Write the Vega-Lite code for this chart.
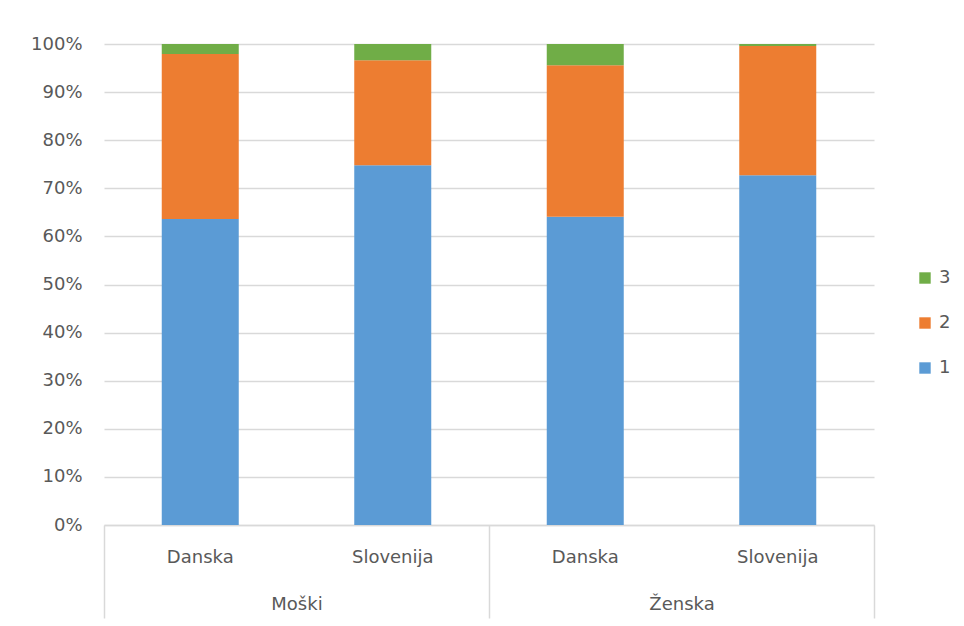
{
  "$schema": "https://vega.github.io/schema/vega-lite/v6.json",
  "width": 770,
  "height": 481,
  "autosize": {"type": "none"},
  "padding": {"left": 104, "top": 44, "right": 90, "bottom": 101},
  "background": "white",
  "config": {
    "font": "DejaVu Sans",
    "view": {"stroke": null},
    "axis": {"labelColor": "#595959", "labelFontSize": 18, "labelFont": "DejaVu Sans"},
    "legend": {"labelColor": "#595959", "labelFontSize": 18, "labelFont": "DejaVu Sans"}
  },
  "data": {
    "values": [
      {"key": "Moški|Danska", "spol": "Moški", "drzava": "Danska", "cat": "1", "value": 63.6},
      {"key": "Moški|Danska", "spol": "Moški", "drzava": "Danska", "cat": "2", "value": 34.3},
      {"key": "Moški|Danska", "spol": "Moški", "drzava": "Danska", "cat": "3", "value": 2.1},
      {"key": "Moški|Slovenija", "spol": "Moški", "drzava": "Slovenija", "cat": "1", "value": 74.8},
      {"key": "Moški|Slovenija", "spol": "Moški", "drzava": "Slovenija", "cat": "2", "value": 21.8},
      {"key": "Moški|Slovenija", "spol": "Moški", "drzava": "Slovenija", "cat": "3", "value": 3.4},
      {"key": "Ženska|Danska", "spol": "Ženska", "drzava": "Danska", "cat": "1", "value": 64.1},
      {"key": "Ženska|Danska", "spol": "Ženska", "drzava": "Danska", "cat": "2", "value": 31.5},
      {"key": "Ženska|Danska", "spol": "Ženska", "drzava": "Danska", "cat": "3", "value": 4.4},
      {"key": "Ženska|Slovenija", "spol": "Ženska", "drzava": "Slovenija", "cat": "1", "value": 72.7},
      {"key": "Ženska|Slovenija", "spol": "Ženska", "drzava": "Slovenija", "cat": "2", "value": 26.9},
      {"key": "Ženska|Slovenija", "spol": "Ženska", "drzava": "Slovenija", "cat": "3", "value": 0.4}
    ]
  },
  "layer": [
    {
      "mark": {"type": "bar"},
      "encoding": {
        "x": {
          "field": "key", "type": "nominal",
          "sort": ["Moški|Danska", "Moški|Slovenija", "Ženska|Danska", "Ženska|Slovenija"],
          "scale": {"paddingInner": 0.6, "paddingOuter": 0.3},
          "axis": {
            "orient": "bottom", "title": null,
            "labelExpr": "split(datum.value, '|')[1]",
            "labelAngle": 0, "ticks": false,
            "domain": true, "domainColor": "#d9d9d9", "domainWidth": 1.5,
            "labelPadding": 23, "grid": false
          }
        },
        "y": {
          "field": "value", "type": "quantitative", "stack": "normalize",
          "scale": {"domain": [0, 1]},
          "axis": {
            "title": null, "format": ".0%",
            "values": [0, 0.1, 0.2, 0.3, 0.4, 0.5, 0.6, 0.7, 0.8, 0.9, 1],
            "grid": true, "gridColor": "#d9d9d9", "gridWidth": 1.5,
            "domain": false, "ticks": false, "labelPadding": 22
          }
        },
        "color": {
          "field": "cat", "type": "nominal",
          "scale": {"domain": ["3", "2", "1"], "range": ["#70AD47", "#ED7D31", "#5B9BD5"]},
          "legend": {
            "orient": "none", "legendX": 812, "legendY": 225, "title": null,
            "symbolType": "square", "symbolSize": 130, "symbolStrokeWidth": 0,
            "rowPadding": 27, "labelOffset": 5
          }
        },
        "order": {"field": "cat", "sort": "ascending"}
      }
    },
    {
      "mark": {"type": "rule", "opacity": 0},
      "encoding": {
        "x": {
          "field": "key", "type": "nominal",
          "sort": ["Moški|Danska", "Moški|Slovenija", "Ženska|Danska", "Ženska|Slovenija"],
          "axis": {
            "orient": "bottom", "title": null,
            "values": ["Moški|Danska", "Ženska|Danska"],
            "bandPosition": 0, "tickOffset": -57.75,
            "tickSize": 93, "tickColor": "#d9d9d9", "tickWidth": 1.5,
            "domain": false, "grid": false,
            "labelExpr": "split(datum.value, '|')[0]",
            "labelOffset": 154, "labelPadding": -23, "labelAngle": 0
          }
        }
      }
    },
    {
      "mark": {"type": "rule", "opacity": 0},
      "encoding": {
        "x": {
          "field": "key", "type": "nominal",
          "sort": ["Moški|Danska", "Moški|Slovenija", "Ženska|Danska", "Ženska|Slovenija"],
          "axis": {
            "orient": "bottom", "title": null,
            "values": ["Ženska|Slovenija"],
            "bandPosition": 1, "tickOffset": 57.75,
            "tickSize": 93, "tickColor": "#d9d9d9", "tickWidth": 1.5,
            "domain": false, "grid": false, "labels": false
          }
        }
      }
    }
  ],
  "resolve": {"axis": {"x": "independent"}}
}
